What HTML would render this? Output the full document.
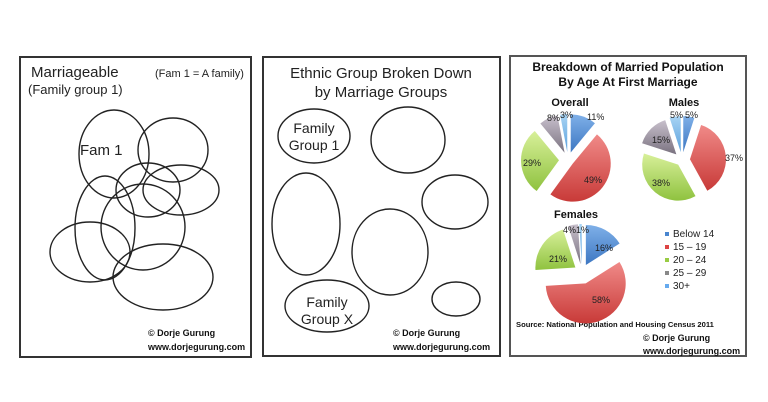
<!DOCTYPE html>
<html><head><meta charset="utf-8"><style>
body{margin:0;width:768px;height:402px;background:#fff;position:relative;overflow:hidden;font-family:"Liberation Sans",sans-serif}
svg{position:absolute;left:0;top:0}
</style></head><body>
<svg id="s" width="768" height="402" viewBox="0 0 768 402">
<defs>
<linearGradient id="gb" x1="0" y1="0" x2="0" y2="1"><stop offset="0" stop-color="#7fb0e8"/><stop offset="1" stop-color="#3d77c2"/></linearGradient>
<linearGradient id="gr" x1="0" y1="0" x2="0" y2="1"><stop offset="0" stop-color="#f08a88"/><stop offset="1" stop-color="#c83a38"/></linearGradient>
<linearGradient id="gg" x1="0" y1="0" x2="0" y2="1"><stop offset="0" stop-color="#d8f09a"/><stop offset="1" stop-color="#8fc23f"/></linearGradient>
<linearGradient id="gy" x1="0" y1="0" x2="0" y2="1"><stop offset="0" stop-color="#c8c0cc"/><stop offset="1" stop-color="#7a7280"/></linearGradient>
<linearGradient id="gc" x1="0" y1="0" x2="0" y2="1"><stop offset="0" stop-color="#a8d4f4"/><stop offset="1" stop-color="#5aa0dc"/></linearGradient>
</defs>
<g fill="none" stroke="#333" stroke-width="2">
<rect x="20" y="57" width="231" height="300"/>
<rect x="263" y="57" width="237" height="299"/>
<rect x="510" y="56" width="236" height="300" stroke="#555"/>
</g>
<g fill="none" stroke="#222" stroke-width="1.4">
<ellipse cx="114" cy="154" rx="35" ry="44"/>
<ellipse cx="173" cy="150" rx="35" ry="32"/>
<ellipse cx="148" cy="190" rx="32" ry="27"/>
<ellipse cx="181" cy="190" rx="38" ry="25"/>
<ellipse cx="105" cy="228" rx="30" ry="52"/>
<ellipse cx="143" cy="227" rx="42" ry="43"/>
<ellipse cx="90" cy="252" rx="40" ry="30"/>
<ellipse cx="163" cy="277" rx="50" ry="33"/>
<ellipse cx="314" cy="136" rx="36" ry="27"/>
<ellipse cx="408" cy="140" rx="37" ry="33"/>
<ellipse cx="455" cy="202" rx="33" ry="27"/>
<ellipse cx="306" cy="224" rx="34" ry="51"/>
<ellipse cx="390" cy="252" rx="38" ry="43"/>
<ellipse cx="456" cy="299" rx="24" ry="17"/>
<ellipse cx="327" cy="306" rx="42" ry="26"/>
</g>
<g fill="#222" font-size="15">
<text x="31" y="77" font-size="15">Marriageable</text>
<text x="28" y="94" font-size="13">(Family group 1)</text>
<text x="155" y="77" font-size="11">(Fam 1 = A family)</text>
<text x="80" y="155" font-size="15">Fam 1</text>
<text x="381" y="78" text-anchor="middle">Ethnic Group Broken Down</text>
<text x="381" y="97" text-anchor="middle">by Marriage Groups</text>
<text x="314" y="133" text-anchor="middle" font-size="14">Family</text>
<text x="314" y="150" text-anchor="middle" font-size="14">Group 1</text>
<text x="327" y="307" text-anchor="middle" font-size="14">Family</text>
<text x="327" y="324" text-anchor="middle" font-size="14">Group X</text>
</g>
<g fill="#111" font-size="9" font-weight="bold">
<text x="148" y="336">© Dorje Gurung</text>
<text x="148" y="350">www.dorjegurung.com</text>
<text x="393" y="336">© Dorje Gurung</text>
<text x="393" y="350">www.dorjegurung.com</text>
<text x="643" y="341">© Dorje Gurung</text>
<text x="643" y="354">www.dorjegurung.com</text>
<text x="516" y="327" font-size="7.6">Source: National Population and Housing Census 2011</text>
<text x="628" y="71" text-anchor="middle" font-size="12">Breakdown of Married Population</text>
<text x="628" y="86" text-anchor="middle" font-size="12">By Age At First Marriage</text>
<text x="570" y="106" text-anchor="middle" font-size="11">Overall</text>
<text x="684" y="106" text-anchor="middle" font-size="11">Males</text>
<text x="576" y="218" text-anchor="middle" font-size="11">Females</text>
</g>
<g id="pies"></g>
<g font-size="9" fill="#222">
<text x="547" y="121">8%</text><text x="560" y="118">3%</text><text x="587" y="120">11%</text>
<text x="523" y="166">29%</text><text x="584" y="183">49%</text>
<text x="670" y="118">5%</text><text x="685" y="118">5%</text>
<text x="652" y="143">15%</text><text x="725" y="161">37%</text><text x="652" y="186">38%</text>
<text x="563" y="233">4%</text><text x="576" y="233">1%</text>
<text x="595" y="251">16%</text><text x="549" y="262">21%</text><text x="592" y="303">58%</text>
</g>
<g font-size="10" fill="#222">
<rect x="665" y="232" width="4" height="4" fill="#4a86cf"/><text x="673" y="237">Below 14</text>
<rect x="665" y="245" width="4" height="4" fill="#d44"/><text x="673" y="250">15 – 19</text>
<rect x="665" y="258" width="4" height="4" fill="#9c4"/><text x="673" y="263">20 – 24</text>
<rect x="665" y="271" width="4" height="4" fill="#888"/><text x="673" y="276">25 – 29</text>
<rect x="665" y="284" width="4" height="4" fill="#6ae"/><text x="673" y="289">30+</text>
</g>
</svg>
<script>
var cols=["url(#gb)","url(#gr)","url(#gg)","url(#gy)","url(#gc)"];
function pie(cx,cy,r,vals,ex){var a=0,g=document.getElementById("pies"),out="";
vals.forEach(function(v,i){var a1=a+v/100*2*Math.PI,m=(a+a1)/2,e=ex[i],
ox=cx+e*Math.sin(m),oy=cy-e*Math.cos(m),
x0=ox+r*Math.sin(a),y0=oy-r*Math.cos(a),x1=ox+r*Math.sin(a1),y1=oy-r*Math.cos(a1),
big=(a1-a)>Math.PI?1:0;
out+='<path d="M'+ox+' '+oy+' L'+x0+' '+y0+' A'+r+' '+r+' 0 '+big+' 1 '+x1+' '+y1+' Z" fill="'+cols[i]+'"/>';a=a1;});
g.innerHTML+=out;}
pie(568,160,38,[11,49,29,8,3],[8,6,9,8,8]);
pie(682,160,36,[5,37,38,15,5],[8,8,6,8,8]);
pie(582,272,40,[16,58,21,4,1],[8,12,8,8,8]);
</script>
</body></html>
